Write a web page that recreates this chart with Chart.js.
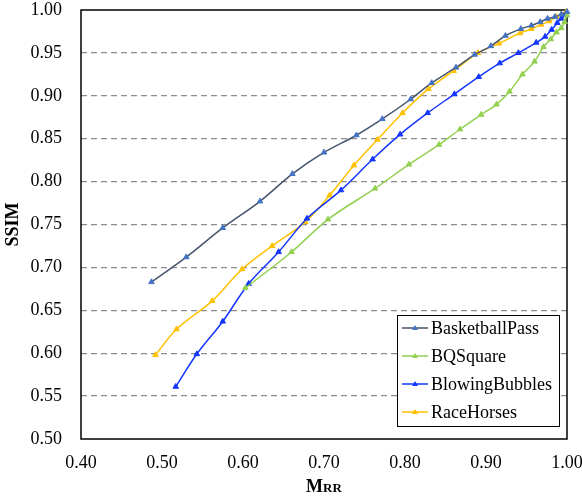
<!DOCTYPE html>
<html>
<head>
<meta charset="utf-8">
<script src="https://cdn.jsdelivr.net/npm/chart.js@4/dist/chart.umd.min.js"></script>
<style>
html,body{margin:0;padding:0;background:#fff;}
#wrap{width:582px;height:499px;position:relative;}
</style>
</head>
<body>
<div id="wrap"><canvas id="c"></canvas></div>
<script>
const seriesNames = ['BasketballPass', 'BQSquare', 'BlowingBubbles', 'RaceHorses'];

const basketX = [0.487,0.530,0.575,0.621,0.661,0.700,0.740,0.772,0.807,0.833,0.863,0.886,0.906,0.924,0.943,0.956,0.967,0.976,0.985,0.993,1.000];
const basketY = [0.683,0.712,0.746,0.777,0.809,0.834,0.854,0.873,0.896,0.915,0.933,0.948,0.958,0.970,0.978,0.982,0.986,0.990,0.992,0.995,0.998];

const bqX = [0.603,0.660,0.705,0.763,0.805,0.842,0.868,0.894,0.913,0.929,0.945,0.960,0.971,0.980,0.987,0.993,0.997,1.000];
const bqY = [0.676,0.718,0.756,0.792,0.820,0.843,0.861,0.878,0.890,0.905,0.925,0.940,0.957,0.966,0.974,0.979,0.986,0.994];

const bubX = [0.517,0.543,0.575,0.607,0.644,0.679,0.721,0.760,0.794,0.828,0.861,0.891,0.917,0.940,0.962,0.973,0.981,0.988,0.993,0.998];
const bubY = [0.561,0.599,0.637,0.681,0.718,0.757,0.790,0.826,0.855,0.880,0.902,0.922,0.938,0.950,0.962,0.969,0.977,0.985,0.990,0.994];

const raceX = [0.492,0.518,0.562,0.599,0.636,0.677,0.707,0.737,0.766,0.797,0.829,0.860,0.890,0.916,0.942,0.956,0.968,0.978,0.987,0.993,0.999];
const raceY = [0.598,0.628,0.661,0.698,0.725,0.753,0.784,0.819,0.849,0.880,0.908,0.929,0.950,0.961,0.973,0.978,0.983,0.987,0.992,0.995,0.998];

const xTicks = [0.40,0.50,0.60,0.70,0.80,0.90,1.00];
const yTicks = [0.50,0.55,0.60,0.65,0.70,0.75,0.80,0.85,0.90,0.95,1.00];

const lineColors = ['#44546A', '#92D050', '#1436FF', '#FFC000'];
const markColors = ['#4472C4', '#92D050', '#1436FF', '#FFC000'];

const FONT = "'Liberation Serif', 'Times New Roman', serif";

function pts(xs, ys){ return xs.map((x,i)=>({x:x, y:ys[i]})); }
const allX = [basketX, bqX, bubX, raceX];
const allY = [basketY, bqY, bubY, raceY];

const datasets = seriesNames.map((n,i)=>({
  label: n,
  data: pts(allX[i], allY[i]),
  showLine: true,
  borderColor: lineColors[i],
  backgroundColor: markColors[i],
  pointBorderColor: markColors[i],
  pointBackgroundColor: markColors[i],
  pointStyle: 'triangle',
  pointRadius: 3.2,
  pointBorderWidth: 1,
  borderWidth: 1.5,
  tension: 0.35,
  clip: 6
}));

const framePlugin = {
  id: 'frame',
  beforeDatasetsDraw(chart){
    const {ctx, chartArea:a} = chart;
    ctx.save();
    ctx.strokeStyle = '#000';
    ctx.lineWidth = 1.5;
    ctx.strokeRect(a.left, a.top, a.right - a.left, a.bottom - a.top);
    ctx.restore();
  },
  afterDraw(chart){
    const {ctx, chartArea:a} = chart;
    ctx.save();
    ctx.fillStyle = '#000';
    ctx.textBaseline = 'middle';
    ctx.save();
    ctx.translate(13, (a.top + a.bottom)/2);
    ctx.rotate(-Math.PI/2);
    ctx.textAlign = 'center';
    ctx.font = 'bold 18px ' + FONT;
    ctx.fillText('SSIM', 0, 0);
    ctx.restore();
    const cx = (a.left + a.right)/2;
    ctx.font = 'bold 18px ' + FONT;
    const wM = ctx.measureText('M').width;
    ctx.font = 'bold 13px ' + FONT;
    const wR = ctx.measureText('RR').width;
    const x0 = cx - (wM + wR)/2;
    ctx.textAlign = 'left';
    ctx.textBaseline = 'alphabetic';
    ctx.font = 'bold 18px ' + FONT;
    ctx.fillText('M', x0, 492);
    ctx.font = 'bold 13px ' + FONT;
    ctx.fillText('RR', x0 + wM, 492);

    const lx = 397, ly = 315, lw = 162, lh = 111;
    ctx.fillStyle = '#fff';
    ctx.fillRect(lx, ly, lw, lh);
    ctx.strokeStyle = '#000';
    ctx.lineWidth = 1;
    ctx.strokeRect(lx + 0.5, ly + 0.5, lw, lh);
    ctx.font = '18px ' + FONT;
    ctx.textBaseline = 'middle';
    chart.data.datasets.forEach((ds, i) => {
      const y = 328 + i * 28;
      ctx.strokeStyle = ds.borderColor;
      ctx.lineWidth = 1.5;
      ctx.beginPath();
      ctx.moveTo(402, y);
      ctx.lineTo(428, y);
      ctx.stroke();
      ctx.fillStyle = ds.pointBackgroundColor;
      ctx.beginPath();
      ctx.moveTo(415, y - 3);
      ctx.lineTo(418, y + 2);
      ctx.lineTo(412, y + 2);
      ctx.closePath();
      ctx.fill();
      ctx.fillStyle = '#000';
      ctx.textAlign = 'left';
      ctx.fillText(ds.label, 431, y + 1);
    });
    ctx.restore();
  }
};

new Chart(document.getElementById('c'), {
  type: 'scatter',
  data: { datasets },
  plugins: [framePlugin],
  options: {
    responsive: true,
    maintainAspectRatio: false,
    devicePixelRatio: 1,
    animation: false,
    layout: { padding: { top: 10, right: 15, left: 0, bottom: 0 } },
    plugins: { legend: { display: false }, tooltip: { enabled: false } },
    scales: {
      x: {
        type: 'linear',
        min: 0.4, max: 1.0,
        afterBuildTicks(s){ s.ticks = xTicks.map(v=>({value:v})); },
        afterFit(s){ s.height = 60; s.paddingLeft = 0; s.paddingRight = 0; },
        grid: { display: false, drawTicks: false },
        border: { display: false },
        ticks: {
          padding: 13,
          color: '#000',
          font: { family: FONT, size: 18 },
          callback: v => Number(v).toFixed(2),
          maxRotation: 0
        }
      },
      y: {
        type: 'linear',
        min: 0.5, max: 1.0,
        afterBuildTicks(s){ s.ticks = yTicks.map(v=>({value:v})); },
        afterFit(s){ s.width = 81; s.paddingTop = 0; s.paddingBottom = 0; },
        grid: {
          drawTicks: false,
          lineWidth: 1.2,
          color: ctx => (ctx.tick && (Math.abs(ctx.tick.value - 0.5) < 1e-6 || Math.abs(ctx.tick.value - 1.0) < 1e-6)) ? 'rgba(0,0,0,0)' : '#8c8c8c'
        },
        border: { display: false, dash: [6, 4] },
        ticks: {
          padding: 19,
          color: '#000',
          font: { family: FONT, size: 18 },
          callback: v => Number(v).toFixed(2)
        }
      }
    }
  }
});
</script>
</body>
</html>
